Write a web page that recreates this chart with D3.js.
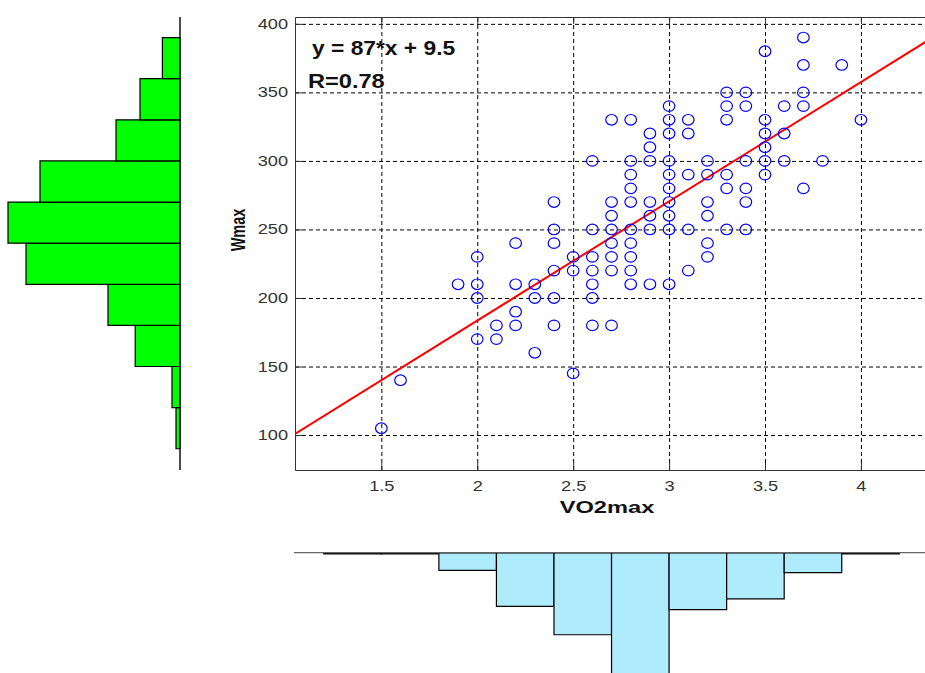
<!DOCTYPE html>
<html>
<head>
<meta charset="utf-8">
<style>
body { margin: 0; background: #fff; }
svg { font-family: "Liberation Sans", Arial, sans-serif; }
.grid line { stroke: #000; stroke-dasharray: 4,3; stroke-width: 1; }
.grid path { display: none; }
.axis path, .axis line { stroke: #333; stroke-width: 1; fill: none; }
.axis text { font-size: 14px; fill: #333; }
.hist path { stroke: #000; stroke-width: 1.2; }
</style>
</head>
<body>
<svg width="925" height="673"></svg>
<script src="https://cdn.jsdelivr.net/npm/d3@7"></script>
<script>

// scatter points (VO2max, Wmax)
var vo2max = [3.7,3.5,3.7,3.9,3.3,3.4,3.7,3.0,3.3,3.4,3.6,3.7,
  2.7,2.8,3.0,3.1,3.3,3.5,4.0,2.9,3.0,3.1,3.5,3.6,2.9,3.5,
  2.8,2.9,3.0,3.2,3.4,3.5,3.6,3.8,2.8,3.0,3.1,3.2,3.3,3.5,
  2.8,3.0,3.3,3.4,3.7,2.7,2.8,2.9,3.0,3.2,3.4,2.7,2.9,3.0,3.2,
  2.7,2.8,2.9,3.0,3.1,3.3,3.4,2.7,2.8,3.2,
  2.6,2.4,2.4,2.6,2.2,2.4,
  2.0,2.5,2.6,2.7,2.4,2.5,2.6,2.7,1.9,2.0,2.2,2.3,2.6,
  2.0,2.3,2.4,2.6,2.2,2.1,2.2,2.4,2.6,2.7,2.0,2.1,2.3,2.5,1.6,1.5,
  2.8,3.2,2.8,3.1,2.8,2.9,3.0];
var wmax = [390,380,370,370,350,350,350,340,340,340,340,340,
  330,330,330,330,330,330,330,320,320,320,320,320,310,310,
  300,300,300,300,300,300,300,300,290,290,290,290,290,290,
  280,280,280,280,280,270,270,270,270,270,270,260,260,260,260,
  250,250,250,250,250,250,250,240,240,240,
  300,270,250,250,240,240,
  230,230,230,230,220,220,220,220,210,210,210,210,210,
  200,200,200,200,190,180,180,180,180,180,170,170,160,145,140,105,
  230,230,220,220,210,210,210];

var xTicks = [1.5, 2, 2.5, 3, 3.5, 4];
var yTicks = [100, 150, 200, 250, 300, 350, 400];

// linear fit shown in the corner
var fitSlope = 87, fitIntercept = 9.5, fitR = 0.78;

// Wmax histogram (left, green), bin edges and counts
var wEdges = [90, 120, 150, 180, 210, 240, 270, 300, 330, 360, 390];
var wCounts = [1, 2, 11.2, 18, 38.5, 43, 35, 16, 10, 4.4];

// VO2max histogram (bottom, light blue)
var vEdges = [1.2, 1.5, 1.8, 2.1, 2.4, 2.7, 3.0, 3.3, 3.6, 3.9, 4.2];
var vCounts = [0, 0, 8, 24.5, 37.5, 56, 26, 21, 9, 0];

var svg = d3.select("svg");

var x = d3.scaleLinear().domain([1.05, 4.36]).range([295, 930]);
var y = d3.scaleLinear().domain([74.5, 405]).range([470, 17]);

// helper: widen text horizontally around its anchor
function stretch(sel, sx) {
  sel.attr("transform", function() {
    var t = d3.select(this);
    var ax = +t.attr("x") || 0, ay = +t.attr("y") || 0;
    return "translate(" + ax + "," + ay + ") scale(" + sx + ",1) translate(" + (-ax) + "," + (-ay) + ")";
  });
}

svg.append("defs").append("clipPath").attr("id", "plotclip")
  .append("rect").attr("x", 295).attr("y", 17).attr("width", 635).attr("height", 453);

// grid
svg.append("g").attr("class", "grid")
  .attr("transform", "translate(0,470)")
  .call(d3.axisBottom(x).tickValues(xTicks).tickSize(-453).tickFormat(""));
svg.append("g").attr("class", "grid")
  .attr("transform", "translate(295,0)")
  .call(d3.axisLeft(y).tickValues(yTicks).tickSize(-635).tickFormat(""));

// axes
var xAxis = svg.append("g").attr("class", "axis")
  .attr("transform", "translate(0,470)")
  .call(d3.axisBottom(x).tickValues(xTicks).tickSizeInner(-7).tickSizeOuter(0).tickPadding(11)
    .tickFormat(d3.format("")));
stretch(xAxis.selectAll("text"), 1.3);

var yAxis = svg.append("g").attr("class", "axis")
  .attr("transform", "translate(295,0)")
  .call(d3.axisLeft(y).tickValues(yTicks).tickSizeInner(-7).tickSizeOuter(0).tickPadding(7));
stretch(yAxis.selectAll("text"), 1.3);

svg.append("g").attr("class", "axis")
  .attr("transform", "translate(0,17)")
  .call(d3.axisTop(x).tickValues(xTicks).tickSizeInner(-7).tickSizeOuter(0).tickFormat(""));

// fit line
var plot = svg.append("g").attr("clip-path", "url(#plotclip)");
plot.append("path")
  .datum(x.domain())
  .attr("d", d3.line().x(function(d){ return x(d); }).y(function(d){ return y(fitSlope * d + fitIntercept); }))
  .attr("stroke", "#ff0000").attr("stroke-width", 2).attr("fill", "none");

// points
plot.selectAll("ellipse")
  .data(d3.range(vo2max.length))
  .enter().append("ellipse")
  .attr("cx", function(i){ return x(vo2max[i]); })
  .attr("cy", function(i){ return y(wmax[i]); })
  .attr("rx", 5.8).attr("ry", 5.3)
  .attr("fill", "none").attr("stroke", "#0000ff").attr("stroke-width", 1.2);

// fit text
var eq = svg.append("text").attr("x", 312).attr("y", 55)
  .attr("font-size", 20).attr("font-weight", "bold").attr("fill", "#111")
  .text("y = " + fitSlope + "*x + " + fitIntercept);
stretch(eq, 1.14);
var rt = svg.append("text").attr("x", 308).attr("y", 88)
  .attr("font-size", 20).attr("font-weight", "bold").attr("fill", "#111")
  .text("R=" + fitR);
stretch(rt, 1.18);

// axis labels
var xl = svg.append("text").attr("x", 607).attr("y", 513)
  .attr("text-anchor", "middle").attr("font-size", 16).attr("font-weight", "bold").attr("fill", "#111")
  .text("VO2max");
stretch(xl, 1.48);

svg.append("text")
  .attr("transform", "translate(245,230) scale(1.45,1) rotate(-90)")
  .attr("text-anchor", "middle").attr("font-size", 14.5).attr("font-weight", "bold").attr("fill", "#111")
  .text("Wmax");

// left histogram of Wmax
var hx = d3.scaleLinear().domain([0, 45]).range([180, 0]);
svg.append("g").attr("class", "hist")
  .selectAll("path")
  .data(wCounts)
  .enter().append("path")
  .attr("fill", "#00ff00")
  .attr("d", function(c, i) {
    return "M" + hx(0) + "," + y(wEdges[i]) + "H" + hx(c) + "V" + y(wEdges[i + 1]) + "H" + hx(0) + "Z";
  });
svg.append("line").attr("x1", 180).attr("x2", 180).attr("y1", 17).attr("y2", 470)
  .attr("stroke", "#111").attr("stroke-width", 1.5);

// bottom histogram of VO2max
var hy = d3.scaleLinear().domain([0, 10]).range([553, 574.8]);
svg.append("g").attr("class", "hist")
  .selectAll("path")
  .data(vCounts)
  .enter().append("path")
  .attr("fill", "#adebfd")
  .attr("stroke-width", function(c){ return c === 0 ? 2 : 1.2; })
  .attr("d", function(c, i) {
    var b = c === 0 ? hy(0) + 0.8 : hy(0);
    return "M" + x(vEdges[i]) + "," + b + "V" + hy(c) + "H" + x(vEdges[i + 1]) + "V" + b + "Z";
  });
svg.append("line").attr("x1", 294).attr("x2", 925).attr("y1", 552.7).attr("y2", 552.7)
  .attr("stroke", "#666").attr("stroke-width", 1.3);

</script>
</body>
</html>
